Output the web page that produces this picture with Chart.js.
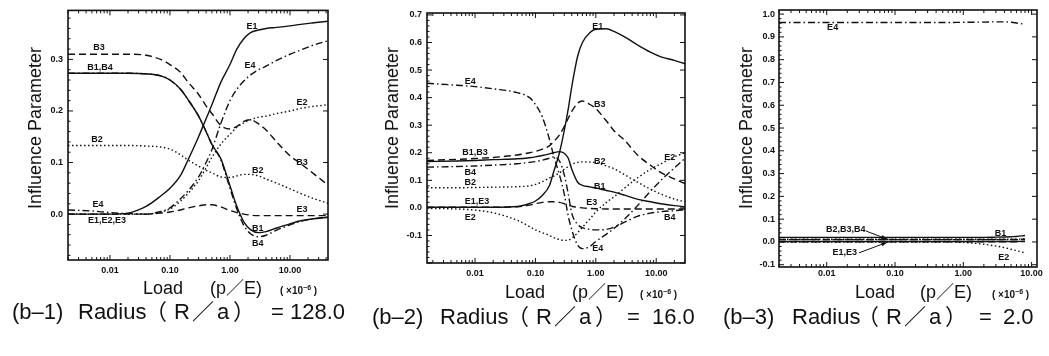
<!DOCTYPE html>
<html>
<head>
<meta charset="utf-8">
<script src="https://cdn.jsdelivr.net/npm/chart.js@4.4.1/dist/chart.umd.min.js"></script>
<style>
  body { margin: 0; background: #fff; width: 1049px; height: 356px; position: relative; overflow: hidden;
         font-family: "Liberation Sans", "Noto Sans CJK JP", sans-serif; color: #111; }
  canvas { position: absolute; top: 0; }
  .t { position: absolute; white-space: pre; line-height: 1; }
  .ytitle { transform: translate(-50%, -50%) rotate(-90deg); font-size: 18px; }
</style>
</head>
<body>
<canvas id="c1" width="345" height="285" style="left:0px"></canvas>
<canvas id="c2" width="345" height="285" style="left:350px"></canvas>
<canvas id="c3" width="349" height="285" style="left:700px"></canvas>
<div id="texts"></div>
<script>
// ---- (b-1) R/a = 128.0 ----
const LOAD_1 = [0.002, 0.005, 0.01, 0.02, 0.04, 0.07, 0.1, 0.15, 0.2, 0.3, 0.4, 0.5, 0.7, 1.0, 1.3, 1.7, 2.2, 3, 4, 6, 10, 15, 25, 43];
const E1_1 = [0, 0, 0, 0.002, 0.015, 0.035, 0.05, 0.075, 0.105, 0.15, 0.185, 0.212, 0.255, 0.29, 0.32, 0.34, 0.352, 0.357, 0.36, 0.362, 0.365, 0.368, 0.371, 0.374];
const E2_1 = [0, 0, 0, 0, 0, 0.004, 0.01, 0.025, 0.04, 0.065, 0.09, 0.11, 0.135, 0.155, 0.168, 0.177, 0.183, 0.188, 0.19, 0.195, 0.2, 0.205, 0.209, 0.212];
const E3_1 = [0, 0, 0, 0, 0, 0.002, 0.004, 0.008, 0.012, 0.016, 0.018, 0.018, 0.014, 0.007, 0.003, 0, -0.002, -0.003, -0.003, -0.003, -0.003, -0.003, -0.003, -0.003];
const E4_1 = [0.008, 0.006, 0.003, 0.001, 0, 0.005, 0.012, 0.03, 0.045, 0.072, 0.1, 0.125, 0.175, 0.22, 0.242, 0.258, 0.27, 0.28, 0.287, 0.298, 0.31, 0.318, 0.328, 0.336];
const B1_1 = [0.273, 0.273, 0.273, 0.273, 0.272, 0.268, 0.26, 0.242, 0.222, 0.19, 0.16, 0.135, 0.108, 0.055, 0.015, -0.015, -0.03, -0.036, -0.034, -0.027, -0.019, -0.013, -0.009, -0.006];
const B2_1 = [0.133, 0.133, 0.133, 0.133, 0.132, 0.13, 0.126, 0.115, 0.105, 0.093, 0.085, 0.08, 0.072, 0.071, 0.074, 0.077, 0.077, 0.074, 0.068, 0.06, 0.049, 0.04, 0.03, 0.021];
const B3_1 = [0.31, 0.31, 0.31, 0.31, 0.308, 0.3, 0.29, 0.275, 0.256, 0.232, 0.21, 0.195, 0.172, 0.165, 0.17, 0.18, 0.183, 0.175, 0.163, 0.14, 0.113, 0.098, 0.078, 0.056];
const B4_1 = [0.273, 0.273, 0.273, 0.273, 0.272, 0.268, 0.26, 0.242, 0.222, 0.19, 0.16, 0.135, 0.106, 0.05, 0.01, -0.022, -0.038, -0.044, -0.041, -0.031, -0.021, -0.014, -0.009, -0.006];

// ---- (b-2) R/a = 16.0 ----
const LOAD_2 = [0.0016, 0.005, 0.01, 0.02, 0.05, 0.08, 0.1, 0.13, 0.17, 0.2, 0.25, 0.3, 0.35, 0.4, 0.5, 0.6, 0.8, 1.0, 1.5, 2, 3, 5, 8, 12, 20, 30];
const E1_2 = [0.002, 0.002, 0.002, 0.002, 0.005, 0.016, 0.025, 0.045, 0.08, 0.13, 0.2, 0.28, 0.36, 0.44, 0.55, 0.6, 0.636, 0.648, 0.65, 0.64, 0.62, 0.59, 0.565, 0.548, 0.535, 0.523];
const E2_2 = [-0.002, -0.004, -0.008, -0.018, -0.045, -0.068, -0.08, -0.09, -0.1, -0.108, -0.115, -0.118, -0.117, -0.11, -0.09, -0.07, -0.04, -0.015, 0.02, 0.04, 0.072, 0.11, 0.14, 0.16, 0.185, 0.2];
const E3_2 = [0.002, 0.002, 0.002, 0.002, 0.004, 0.01, 0.015, 0.02, 0.022, 0.022, 0.02, 0.015, 0.01, 0.006, 0.002, 0, -0.002, -0.003, -0.004, -0.004, -0.004, -0.004, -0.004, -0.004, -0.004, -0.004];
const E4_2 = [0.452, 0.445, 0.44, 0.432, 0.418, 0.4, 0.375, 0.33, 0.25, 0.19, 0.12, 0.05, -0.03, -0.08, -0.135, -0.148, -0.14, -0.122, -0.095, -0.075, -0.04, 0.01, 0.06, 0.1, 0.145, 0.18];
const B1_2 = [0.168, 0.17, 0.172, 0.175, 0.178, 0.182, 0.185, 0.19, 0.196, 0.2, 0.204, 0.198, 0.18, 0.14, 0.093, 0.082, 0.076, 0.072, 0.063, 0.057, 0.046, 0.031, 0.022, 0.015, 0.008, 0.004];
const B2_2 = [0.073, 0.073, 0.074, 0.075, 0.077, 0.08, 0.085, 0.095, 0.108, 0.115, 0.127, 0.14, 0.15, 0.158, 0.165, 0.167, 0.166, 0.164, 0.152, 0.142, 0.12, 0.092, 0.068, 0.05, 0.032, 0.022];
const B3_2 = [0.172, 0.176, 0.179, 0.183, 0.192, 0.2, 0.205, 0.213, 0.225, 0.24, 0.265, 0.295, 0.325, 0.35, 0.38, 0.388, 0.375, 0.36, 0.315, 0.28, 0.245, 0.19, 0.155, 0.128, 0.105, 0.088];
const B4_2 = [0.148, 0.15, 0.152, 0.155, 0.16, 0.165, 0.168, 0.173, 0.18, 0.185, 0.17, 0.12, 0.05, -0.02, -0.06, -0.072, -0.078, -0.08, -0.078, -0.07, -0.052, -0.03, -0.019, -0.014, -0.01, -0.007];

// ---- (b-3) R/a = 2.0 ----
const LOAD_3 = [0.002, 0.01, 0.05, 0.2, 0.5, 1, 2, 3, 4, 5, 6, 8];
const E1_3 = [0.002, 0.002, 0.002, 0.002, 0.002, 0.002, 0.002, 0.002, 0.002, 0.002, 0.002, 0.003];
const E2_3 = [0, 0, 0, 0, 0, -0.002, -0.01, -0.018, -0.025, -0.032, -0.038, -0.048];
const E3_3 = [0.001, 0.001, 0.001, 0.001, 0.001, 0.001, 0.001, 0.001, 0.001, 0.001, 0.001, 0.002];
const E4_3 = [0.963, 0.963, 0.963, 0.963, 0.963, 0.964, 0.965, 0.966, 0.966, 0.964, 0.961, 0.955];
const B1_3 = [0.02, 0.02, 0.02, 0.02, 0.02, 0.02, 0.02, 0.021, 0.022, 0.023, 0.024, 0.028];
const B2_3 = [0.012, 0.012, 0.012, 0.012, 0.012, 0.012, 0.012, 0.012, 0.012, 0.012, 0.012, 0.013];
const B3_3 = [0.011, 0.011, 0.011, 0.011, 0.011, 0.011, 0.011, 0.011, 0.011, 0.011, 0.011, 0.012];
const B4_3 = [0.01, 0.01, 0.01, 0.01, 0.01, 0.01, 0.01, 0.01, 0.01, 0.01, 0.01, 0.011];

// tick labels
const X_TICKS = [0.01, 0.1, 1, 10];
const Y_TICKS_1 = [0, 0.1, 0.2, 0.3];
const Y_TICKS_2 = [-0.1, 0, 0.1, 0.2, 0.3, 0.4, 0.5, 0.6, 0.7];
const Y_TICKS_3 = [-0.1, 0, 0.1, 0.2, 0.3, 0.4, 0.5, 0.6, 0.7, 0.8, 0.9, 1.0];

// curve names written on the plots: [text, load, value]
const LABELS_1 = [['E1', 2.33, 0.364], ['E4', 2.15, 0.288], ['E2', 15.8, 0.216], ['B3', 0.0066, 0.323],
  ['B1,B4', 0.0068, 0.285], ['B2', 0.0061, 0.144], ['B3', 15.8, 0.1], ['B2', 2.9, 0.085], ['E4', 0.0063, 0.019],
  ['E1,E2,E3', 0.0089, -0.013], ['E3', 15.8, 0.008], ['B1', 2.9, -0.027], ['B4', 2.9, -0.057]];
const LABELS_2 = [['E1', 1.08, 0.658], ['E4', 0.0083, 0.458], ['B3', 1.16, 0.375], ['B1,B3', 0.01, 0.2],
  ['E2', 16.7, 0.182], ['B2', 1.16, 0.167], ['B4', 0.0083, 0.127], ['B2', 0.0083, 0.091], ['E1,E3', 0.0108, 0.022],
  ['E2', 0.0083, -0.036], ['B1', 1.16, 0.076], ['E3', 0.86, 0.018], ['E4', 1.08, -0.146], ['B4', 16.7, -0.036]];
const LABELS_3 = [['E4', 0.0122, 0.943], ['B2,B3,B4', 0.019, 0.053], ['E1,E3', 0.0184, -0.048],
  ['B1', 3.5, 0.039], ['E2', 3.9, -0.07]];
// pointers from a name to its curves: [load0, value0, load1, value1]
const ARROWS_3 = [[0.0374, 0.048, 0.0762, 0.013], [0.0296, -0.048, 0.0762, -0.002]];

const LINE_DASH = { solid: [], dash: [7, 4], dot: [1.5, 2.5], dashdot: [7, 3, 1.5, 3] };
const TICK_FONT = { family: 'Liberation Sans', size: 9, weight: 'bold' };

// box, inward ticks, curve names
const framePlugin = {
  id: 'frame',
  afterDatasetsDraw(chart, args, opts) {
    const { ctx, chartArea: a } = chart;
    const x = chart.scales.x, y = chart.scales.y;
    ctx.save();
    ctx.strokeStyle = '#111';
    ctx.lineWidth = 1.6;
    ctx.strokeRect(a.left, a.top, a.right - a.left, a.bottom - a.top);
    ctx.lineWidth = 1;
    ctx.beginPath();
    for (let d = Math.floor(Math.log10(x.min)); d <= Math.ceil(Math.log10(x.max)); d++) {
      for (let k = 1; k <= 9; k++) {
        const v = k * Math.pow(10, d);
        if (v < x.min || v > x.max) continue;
        const px = x.getPixelForValue(v);
        const len = k === 1 ? 5 : 3;
        ctx.moveTo(px, a.bottom); ctx.lineTo(px, a.bottom - len);
        ctx.moveTo(px, a.top); ctx.lineTo(px, a.top + len);
      }
    }
    for (let i = Math.ceil(y.min / 0.02); i <= Math.floor(y.max / 0.02); i++) {
      const py = y.getPixelForValue(i * 0.02);
      if (i % 5 === 0) {
        ctx.moveTo(a.left, py); ctx.lineTo(a.left + 5, py);
        ctx.moveTo(a.right, py); ctx.lineTo(a.right - 5, py);
      } else {
        ctx.moveTo(a.left, py); ctx.lineTo(a.left + 2.5, py);
      }
    }
    ctx.stroke();

    ctx.fillStyle = '#111';
    ctx.font = 'bold 9px "Liberation Sans"';
    ctx.textAlign = 'center';
    ctx.textBaseline = 'middle';
    (opts.items || []).forEach(([t, vx, vy]) => {
      ctx.fillText(t, x.getPixelForValue(vx), y.getPixelForValue(vy));
    });
    (opts.arrows || []).forEach(([x0, y0, x1, y1]) => {
      const p0 = [x.getPixelForValue(x0), y.getPixelForValue(y0)];
      const p1 = [x.getPixelForValue(x1), y.getPixelForValue(y1)];
      const ang = Math.atan2(p1[1] - p0[1], p1[0] - p0[0]);
      ctx.beginPath();
      ctx.moveTo(p0[0], p0[1]); ctx.lineTo(p1[0], p1[1]);
      ctx.stroke();
      ctx.beginPath();
      ctx.moveTo(p1[0], p1[1]);
      ctx.lineTo(p1[0] - 6 * Math.cos(ang - 0.35), p1[1] - 6 * Math.sin(ang - 0.35));
      ctx.lineTo(p1[0] - 6 * Math.cos(ang + 0.35), p1[1] - 6 * Math.sin(ang + 0.35));
      ctx.closePath();
      ctx.fill();
    });
    ctx.restore();
  }
};

function pts(xs, ys) {
  return xs.map((v, i) => ({ x: v, y: ys[i] }));
}

function makeChart(id, cfg) {
  const ctx = document.getElementById(id).getContext('2d');
  return new Chart(ctx, {
    type: 'line',
    data: {
      datasets: cfg.lines.map(([ys, style]) => ({
        data: pts(cfg.load, ys),
        borderColor: '#111',
        borderWidth: 1.4,
        borderDash: LINE_DASH[style],
        pointRadius: 0,
        cubicInterpolationMode: 'monotone',
        fill: false
      }))
    },
    options: {
      responsive: false,
      animation: false,
      events: [],
      layout: { padding: { top: cfg.padTop, right: cfg.padRight, left: 0, bottom: 0 } },
      plugins: {
        legend: { display: false },
        tooltip: { enabled: false },
        frame: { items: cfg.labels, arrows: cfg.arrows || [] }
      },
      scales: {
        x: {
          type: 'logarithmic', min: cfg.xMin, max: cfg.xMax,
          grid: { display: false, drawTicks: false }, border: { display: false },
          afterBuildTicks: s => { s.ticks = X_TICKS.map(v => ({ value: v })); },
          afterFit: s => { s.height = cfg.xAxisH; },
          ticks: { autoSkip: false, maxRotation: 0, padding: cfg.xPad, color: '#111', font: TICK_FONT,
                   callback: v => Number(v).toFixed(2) }
        },
        y: {
          type: 'linear', min: cfg.yMin, max: cfg.yMax,
          grid: { display: false, drawTicks: false }, border: { display: false },
          afterBuildTicks: s => { s.ticks = cfg.yTicks.map(v => ({ value: v })); },
          afterFit: s => { s.width = cfg.yAxisW; },
          ticks: { autoSkip: false, padding: cfg.yPad, color: '#111', font: TICK_FONT,
                   callback: v => Number(v).toFixed(1) }
        }
      }
    },
    plugins: [framePlugin]
  });
}

makeChart('c1', {
  load: LOAD_1,
  lines: [[E1_1, 'solid'], [E2_1, 'dot'], [E3_1, 'dash'], [E4_1, 'dashdot'],
          [B1_1, 'solid'], [B2_1, 'dot'], [B3_1, 'dash'], [B4_1, 'dashdot']],
  xMin: 0.002, xMax: 43, yMin: -0.089, yMax: 0.395, yTicks: Y_TICKS_1,
  yAxisW: 68, xAxisH: 25, padTop: 5, padRight: 17, xPad: 5, yPad: 5,
  labels: LABELS_1
});
makeChart('c2', {
  load: LOAD_2,
  lines: [[E1_2, 'solid'], [E2_2, 'dot'], [E3_2, 'dash'], [E4_2, 'dashdot'],
          [B1_2, 'solid'], [B2_2, 'dot'], [B3_2, 'dash'], [B4_2, 'dashdot']],
  xMin: 0.0016, xMax: 30, yMin: -0.2, yMax: 0.707, yTicks: Y_TICKS_2,
  yAxisW: 77, xAxisH: 22, padTop: 13, padRight: 10, xPad: 5, yPad: 5,
  labels: LABELS_2
});
makeChart('c3', {
  load: LOAD_3,
  lines: [[E1_3, 'solid'], [E2_3, 'dot'], [E3_3, 'dash'], [E4_3, 'dashdot'],
          [B1_3, 'solid'], [B2_3, 'dot'], [B3_3, 'dash'], [B4_3, 'dashdot']],
  xMin: 0.002, xMax: 12, yMin: -0.11, yMax: 1.018, yTicks: Y_TICKS_3,
  yAxisW: 79, xAxisH: 18, padTop: 10, padRight: 12, xPad: 1, yPad: 4,
  labels: LABELS_3, arrows: ARROWS_3
});

// axis titles and captions
const box = document.getElementById('texts');
function put(str, left, cy, size, cls) {
  const d = document.createElement('div');
  d.className = 't' + (cls ? ' ' + cls : '');
  d.textContent = str;
  d.style.left = left + 'px';
  if (cls === 'ytitle') {
    d.style.top = cy + 'px';
  } else {
    d.style.top = (cy - size / 2) + 'px';
    d.style.fontSize = size + 'px';
  }
  box.appendChild(d);
  return d;
}
[35, 392, 746].forEach(cx => put('Influence Parameter', cx, 128, 18, 'ytitle'));

[[143, 210, 280, 288], [505, 572, 640, 292], [855, 920, 992, 292]].forEach(([l, p, u, cy]) => {
  put('Load', l, cy, 18);
  put('(p／E)', p, cy, 18);
  const unit = put('( ×10', u, cy + 1, 10);
  unit.style.fontWeight = 'bold';
  const sup = document.createElement('span');
  sup.textContent = '−6';
  sup.style.fontSize = '7px';
  sup.style.verticalAlign = '4px';
  unit.appendChild(sup);
  unit.appendChild(document.createTextNode(' )'));
});

const CAPTIONS = [
  [312, [['(b–1)', 12], ['Radius', 78], ['（', 145], ['R', 174], ['／', 192], ['a', 217], ['）', 233], ['=', 271], ['128.0', 290]]],
  [317, [['(b–2)', 372], ['Radius', 440], ['（', 507], ['R', 536], ['／', 554], ['a', 579], ['）', 595], ['=', 627], ['16.0', 652]]],
  [317, [['(b–3)', 723], ['Radius', 792], ['（', 857], ['R', 886], ['／', 904], ['a', 929], ['）', 945], ['=', 979], ['2.0', 1003]]]
];
CAPTIONS.forEach(([cy, parts]) => parts.forEach(([s, l]) => put(s, l, cy, 22)));
</script>
</body>
</html>
